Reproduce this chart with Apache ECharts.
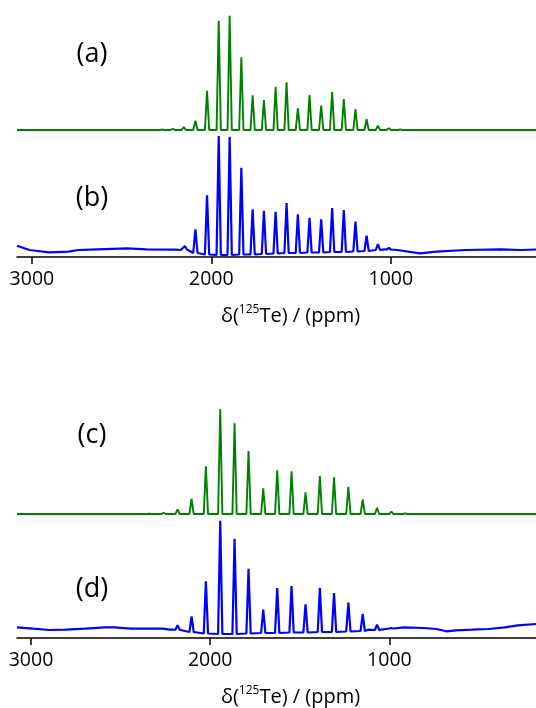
<!DOCTYPE html>
<html>
<head>
<meta charset="utf-8">
<script src="https://cdn.jsdelivr.net/npm/echarts@6/dist/echarts.min.js"></script>
<style>
html,body{margin:0;padding:0;background:#fff;}
#chart{width:536px;height:708px;}
</style>
</head>
<body>
<div id="chart"></div>
<script>
// ---------- data (ppm / relative intensity) ----------
const tickValues = [1000, 2000, 3000];
const tickLabels = ['1000', '2000', '3000'];
const panelLabels = ['(a)', '(b)', '(c)', '(d)'];

// (a) simulated, upper panel
const aPos = [2275, 2215, 2154, 2089, 2024, 1959, 1898, 1833, 1770, 1707, 1642, 1581, 1518, 1453, 1388, 1327, 1262, 1197, 1135, 1072, 1011, 948];
const aInt = [0.5, 1.3, 3, 9.3, 39.3, 109.3, 114.3, 72.7, 34.7, 30, 43.3, 47.7, 21.7, 35, 24.3, 38.3, 31, 21, 10.7, 4.3, 1.7, 0.7];

// (b) experimental, upper panel
const bPos  = [2148, 2089, 2024, 1959, 1898, 1833, 1770, 1707, 1642, 1581, 1518, 1453, 1388, 1327, 1262, 1197, 1135, 1072, 1011];
const bTop  = [11, 27.7, 61.7, 121, 120.3, 89.3, 47.7, 46.3, 45.3, 54, 42.7, 39.3, 37.7, 49, 47, 35.3, 21.3, 13, 9];
const bFoot = [7.5, 4, 2.5, 2, 2, 2.5, 2.5, 3, 3.5, 4, 4, 4.5, 4.5, 5, 5, 5.5, 6, 7, 7.5];
const bBaseX = [3083, 3013, 2904, 2796, 2741, 2633, 2470, 2362, 2199, 2170, 1036, 964, 837, 747, 584, 385, 277, 191];
const bBaseY = [11.3, 7, 4.7, 5.3, 7, 7.7, 8.7, 7.7, 7.3, 7, 7.7, 7, 3.7, 5.3, 7, 7.7, 7, 7.5];

// (c) simulated, lower panel
const cPos = [2340, 2260, 2182, 2104, 2024, 1944, 1864, 1786, 1704, 1626, 1546, 1468, 1388, 1309, 1229, 1149, 1069, 989, 911];
const cInt = [0.3, 1.3, 4.7, 15, 47.7, 105, 90.7, 63, 25.7, 43.7, 42.7, 21.7, 38, 36.7, 27.3, 14.7, 6.3, 2.3, 0.7];

// (d) experimental, lower panel
const dPos  = [2182, 2104, 2024, 1944, 1864, 1786, 1704, 1626, 1546, 1468, 1388, 1309, 1229, 1149, 1069, 989];
const dTop  = [12.7, 21.7, 56.7, 117.3, 99.3, 69.3, 28.3, 50, 52, 33.7, 50.3, 45, 35.3, 24, 13.3, 10];
const dFoot = [8.3, 6, 4.5, 4, 4, 4.5, 5, 5, 5.5, 5.5, 6, 6, 6.5, 7, 8, 9.5];
const dBaseX = [3078, 2987, 2897, 2806, 2697, 2589, 2534, 2444, 2353, 2263, 2226, 1118, 1045, 918, 810, 737, 683, 629, 538, 447, 357, 284, 182];
const dBaseY = [10.7, 9.3, 8, 8.3, 9.3, 10.7, 10.7, 9.3, 9.3, 9.3, 8.3, 8.3, 8.3, 10.7, 10, 9, 6.7, 7.7, 8.3, 9, 10.7, 12.7, 14];

const topRange = [191, 3083];
const botRange = [182, 3078];

// ---------- build line data ----------
const HW = 12; // peak half width in ppm (drawing style)
function spectrum(pos, top, foot, baseX, baseY) {
  const pts = [];
  for (let i = 0; i < baseX.length; i++) pts.push([baseX[i], baseY[i]]);
  for (let i = 0; i < pos.length; i++) {
    const f = foot ? foot[i] : 0;
    pts.push([pos[i] + HW, f]);
    pts.push([pos[i], top[i]]);
    pts.push([pos[i] - HW, f]);
  }
  pts.sort((p, q) => q[0] - p[0]);
  return pts;
}
const aData = spectrum(aPos, aInt, null, [topRange[1], topRange[0]], [0, 0]);
const bData = spectrum(bPos, bTop, bFoot, bBaseX, bBaseY);
const cData = spectrum(cPos, cInt, null, [botRange[1], botRange[0]], [0, 0]);
const dData = spectrum(dPos, dTop, dFoot, dBaseX, dBaseY);

const FONT = '"Open Sans", "Noto Sans", sans-serif';
const GREEN = '#008000';
const BLUE = '#0000ff';

function shownAxis(gi, range) {
  return {
    type: 'value', gridIndex: gi, min: range[0], max: range[1], inverse: true,
    axisLine: { show: true, lineStyle: { color: '#000', width: 1.5 } },
    axisTick: { show: true, customValues: tickValues, length: 7, lineStyle: { color: '#000', width: 1.5 } },
    axisLabel: {
      show: true, customValues: tickValues, margin: 12,
      formatter: v => tickLabels[tickValues.indexOf(v)] || '',
      color: '#000', fontSize: 19.5, fontFamily: FONT
    },
    splitLine: { show: false },
    name: '{m|δ(}{s|125}{m|Te) / (ppm)}',
    nameLocation: 'middle', nameGap: 47,
    nameTextStyle: {
      padding: [0, 0, 0, 28],
      rich: {
        m: { fontSize: 20, fontFamily: FONT, color: '#000', lineHeight: 24, verticalAlign: 'middle' },
        s: { fontSize: 12, fontFamily: FONT, color: '#000', lineHeight: 15, verticalAlign: 'top' }
      }
    }
  };
}
function hiddenAxis(gi, range) {
  return { type: 'value', gridIndex: gi, min: range[0], max: range[1], inverse: true, show: false };
}

function label(txt, x, y) {
  return { type: 'text', x: x, y: y, style: { text: txt, font: '27px ' + FONT, fill: '#000', align: 'center', verticalAlign: 'middle', textAlign: 'center', textVerticalAlign: 'middle' } };
}

const chart = echarts.init(document.getElementById('chart'), null, { renderer: 'canvas' });
chart.setOption({
  animation: false,
  backgroundColor: '#fff',
  grid: [
    { left: 17, right: 0, top: 10, height: 120 },
    { left: 17, right: 0, top: 133, height: 124 },
    { left: 17, right: 0, top: 394, height: 120 },
    { left: 17, right: 0, top: 518, height: 120 }
  ],
  xAxis: [
    hiddenAxis(0, topRange),
    shownAxis(1, topRange),
    hiddenAxis(2, botRange),
    shownAxis(3, botRange)
  ],
  yAxis: [
    { type: 'value', gridIndex: 0, min: 0, max: 120, show: false },
    { type: 'value', gridIndex: 1, min: 0, max: 124, show: false },
    { type: 'value', gridIndex: 2, min: 0, max: 120, show: false },
    { type: 'value', gridIndex: 3, min: 0, max: 120, show: false }
  ],
  series: [
    { type: 'line', xAxisIndex: 0, yAxisIndex: 0, data: aData, symbol: 'none', lineStyle: { color: GREEN, width: 1.9 } },
    { type: 'line', xAxisIndex: 1, yAxisIndex: 1, data: bData, symbol: 'none', lineStyle: { color: BLUE, width: 2.2 } },
    { type: 'line', xAxisIndex: 2, yAxisIndex: 2, data: cData, symbol: 'none', lineStyle: { color: GREEN, width: 1.9 } },
    { type: 'line', xAxisIndex: 3, yAxisIndex: 3, data: dData, symbol: 'none', lineStyle: { color: BLUE, width: 2.2 } }
  ],
  graphic: [
    label(panelLabels[0], 92, 54),
    label(panelLabels[1], 92, 198),
    label(panelLabels[2], 92, 435),
    label(panelLabels[3], 92, 589)
  ]
});
</script>
</body>
</html>
